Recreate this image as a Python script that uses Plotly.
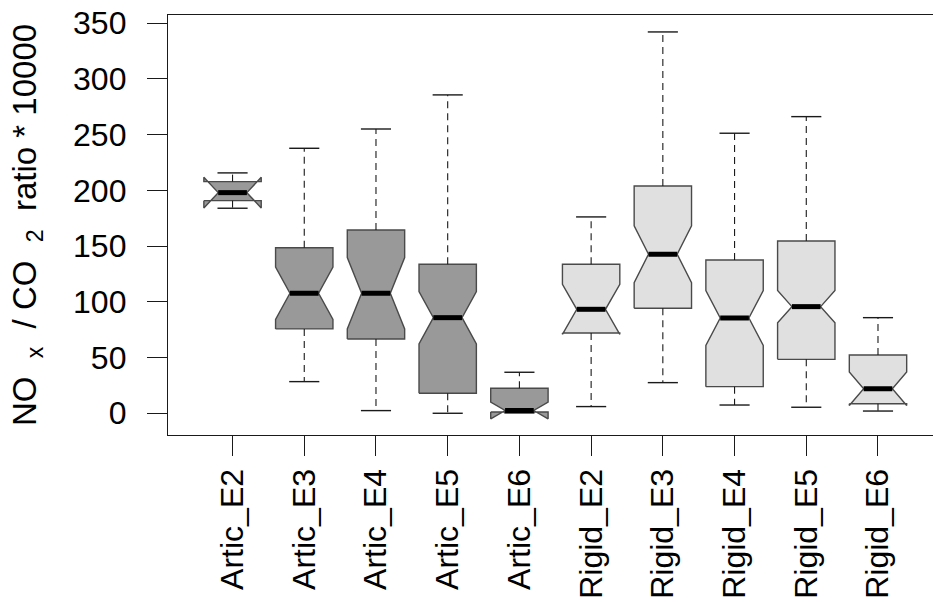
import plotly.graph_objects as go

# NOx / CO2 ratio (x 10000) summary statistics by vehicle type and Euro class
categories = ["Artic_E2", "Artic_E3", "Artic_E4", "Artic_E5", "Artic_E6",
              "Rigid_E2", "Rigid_E3", "Rigid_E4", "Rigid_E5", "Rigid_E6"]
lower_whisker = [184.0, 28.4, 2.4, 0.0, 0.3, 6.0, 27.5, 7.4, 5.4, 2.0]
q1_values = [190.8, 75.7, 66.7, 17.9, 1.2, 72.0, 94.2, 23.9, 48.4, 8.5]
median_values = [198.0, 107.7, 107.7, 85.8, 2.5, 93.3, 142.7, 85.5, 95.7, 22.0]
q3_values = [207.9, 148.6, 164.5, 133.7, 22.4, 133.7, 204.0, 137.6, 154.6, 52.3]
upper_whisker = [215.7, 237.8, 255.1, 285.7, 36.8, 176.2, 342.2, 251.3, 266.2, 85.8]
notch_span = [13.8, 23.5, 32.0, 23.5, 7.5, 22.5, 25.5, 24.6, 14.5, 15.0]
y_ticks = [0, 50, 100, 150, 200, 250, 300, 350]

group_fill = {"Artic": "#999999", "Rigid": "#e0e0e0"}

HALF_W = 0.4                 # half of the box width (boxwex 0.8)
NOTCH_HALF = HALF_W / 2      # notch waist is half the box width
CAP_HALF = 0.21
FONT = "Liberation Sans, Arial, sans-serif"
INK = "#1a1a1a"

positions = list(range(len(categories)))

fig = go.Figure()

# notched box bodies (outline follows the notch, flaring past the hinges if needed)
for p, cat, a, m, b, ns in zip(positions, categories, q1_values, median_values,
                               q3_values, notch_span):
    nlo, nhi = m - ns, m + ns
    xs = [p - HALF_W, p - HALF_W, p - NOTCH_HALF, p - HALF_W, p - HALF_W,
          p + HALF_W, p + HALF_W, p + NOTCH_HALF, p + HALF_W, p + HALF_W, p - HALF_W]
    ys = [a, nlo, m, nhi, b, b, nhi, m, nlo, a, a]
    fig.add_trace(go.Scatter(
        x=xs, y=ys, mode="lines", fill="toself",
        fillcolor=group_fill[cat.split("_")[0]],
        line=dict(color="#4a4a4a", width=1.4),
        showlegend=False, hoverinfo="skip",
    ))

# dashed whiskers
wx, wy = [], []
for p, lo, a, b, hi in zip(positions, lower_whisker, q1_values, q3_values, upper_whisker):
    wx += [p, p, None, p, p, None]
    wy += [b, hi, None, a, lo, None]
fig.add_trace(go.Scatter(x=wx, y=wy, mode="lines", showlegend=False, hoverinfo="skip",
                         line=dict(color=INK, width=1.1, dash="7px,5px")))

# whisker caps
cx, cy = [], []
for p, lo, hi in zip(positions, lower_whisker, upper_whisker):
    cx += [p - CAP_HALF, p + CAP_HALF, None, p - CAP_HALF, p + CAP_HALF, None]
    cy += [hi, hi, None, lo, lo, None]
fig.add_trace(go.Scatter(x=cx, y=cy, mode="lines", showlegend=False, hoverinfo="skip",
                         line=dict(color=INK, width=1.4)))

# heavy median bars across the notch waist
mx, my = [], []
for p, m in zip(positions, median_values):
    mx += [p - NOTCH_HALF, p + NOTCH_HALF, None]
    my += [m, m, None]
fig.add_trace(go.Scatter(x=mx, y=my, mode="lines", showlegend=False, hoverinfo="skip",
                         line=dict(color="#000000", width=5)))

NB = "\u00a0"
y_title = (NB + "NO" + NB * 2 + "<sub>x</sub>" + NB * 2 + "/ CO" + NB * 2 +
           "<sub>2</sub>" + NB * 2 + "ratio * 10000")

fig.update_layout(
    width=933, height=602,
    margin=dict(l=168, r=0, t=15, b=167),
    paper_bgcolor="white", plot_bgcolor="white",
    font=dict(family=FONT, size=31, color="#000000"),
    xaxis=dict(
        range=[-0.9, 9.767],
        tickmode="array", tickvals=positions, ticktext=categories,
        tickangle=-90,
        ticks="outside", ticklen=20, tickwidth=1.3, tickcolor=INK,
        showline=True, linecolor=INK, linewidth=1.3, mirror=True,
        showgrid=False, zeroline=False,
        ticklabelstandoff=0,
        tickfont=dict(family=FONT, size=32),
    ),
    yaxis=dict(
        range=[-19.5, 357.4],
        tickmode="array", tickvals=y_ticks,
        ticks="outside", ticklen=20, tickwidth=1.3, tickcolor=INK,
        showline=True, linecolor=INK, linewidth=1.3,
        showgrid=False, zeroline=False,
        ticklabelstandoff=14,
        tickfont=dict(family=FONT, size=32),
        title=dict(text=y_title, standoff=26, font=dict(family=FONT, size=33)),
    ),
)

fig.write_html("out.html")
